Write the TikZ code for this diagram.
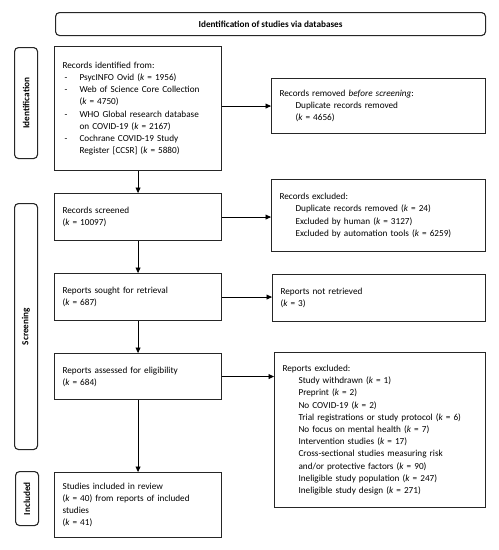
\documentclass[tikz,border=0pt]{standalone}
\usepackage{fontspec}
\setmainfont{Carlito}
\usetikzlibrary{arrows.meta,calc}
\newcommand{\kk}{{\itshape k}}
\newcommand{\ind}{\hspace*{16pt}}
\newcommand{\dashitem}{\hspace*{2pt}\makebox[15pt][l]{-}}
\newcommand{\cont}{\hspace*{17pt}}
\begin{document}
\begin{tikzpicture}[x=1pt,y=-1pt,
  box/.style={draw=black!85, line width=1.1pt, anchor=north west, inner xsep=8pt, inner ysep=0pt,
    align=left, font=\fontsize{9.2}{12.2}\selectfont},
  sidebox/.style={draw=black!85, line width=1.1pt, rounded corners=4pt, anchor=north west,
    minimum width=23pt, inner sep=0pt, font=\fontsize{9.2}{11}\selectfont\bfseries},
  arr/.style={draw=black, line width=0.9pt, -{Triangle[length=5.5pt,width=5pt]}}]
\useasboundingbox (0,0) rectangle (499,550);
% title
\node[draw=black!85, line width=1.1pt, rounded corners=4pt, anchor=north west, minimum width=430pt,
  minimum height=23pt, inner sep=0pt, font=\fontsize{9.2}{12}\selectfont\bfseries] (title) at (55,12)
  {Identification of studies via databases};
% side labels
\node[sidebox, minimum height=111pt] (sideid) at (14,47) {\rotatebox{90}{Identification}};
\node[sidebox, minimum height=246pt] (sidescr) at (14,203) {\rotatebox{90}{Screening}};
\node[sidebox, minimum height=54pt] (sideinc) at (15,471) {\rotatebox{90}{Included}};
% main column
\node[box, minimum width=167pt, minimum height=124pt, text width=151pt] (ident) at (54,46)
  {Records identified from:\\
   \dashitem PsycINFO Ovid (\kk{} = 1956)\\
   \dashitem Web of Science Core Collection\\
   \cont(\kk{} = 4750)\\
   \dashitem WHO Global research database\\
   \cont on COVID-19 (\kk{} = 2167)\\
   \dashitem Cochrane COVID-19 Study\\
   \cont Register [CCSR] (\kk{} = 5880)};
\node[box, minimum width=167pt, minimum height=47pt, text width=151pt] (screened) at (54,193)
  {Records screened\\(\kk{} = 10097)};
\node[box, minimum width=167pt, minimum height=47pt, text width=151pt] (sought) at (54,273)
  {Reports sought for retrieval\\(\kk{} = 687)};
\node[box, minimum width=167pt, minimum height=46pt, text width=151pt] (assessed) at (54,353)
  {Reports assessed for eligibility\\(\kk{} = 684)};
\node[box, minimum width=167pt, minimum height=65pt, text width=151pt] (included) at (54,472)
  {Studies included in review\\(\kk{} = 40) from reports of included\\studies\\(\kk{} = 41)};
% right column
\node[box, minimum width=214pt, minimum height=55pt, text width=198pt] (removed) at (271,78)
  {Records removed {\itshape before screening}:\\
   \ind Duplicate records removed\\
   \ind(\kk{} = 4656)};
\node[box, minimum width=214pt, minimum height=72pt, text width=198pt] (excluded) at (271,179)
  {Records excluded:\\
   \ind Duplicate records removed (\kk{} = 24)\\
   \ind Excluded by human (\kk{} = 3127)\\
   \ind Excluded by automation tools (\kk{} = 6259)};
\node[box, minimum width=213pt, minimum height=47pt, text width=197pt] (notretr) at (272,274)
  {Reports not retrieved\\(\kk{} = 3)};
\node[box, minimum width=211pt, minimum height=155pt, text width=195pt] (repexcl) at (274,352)
  {Reports excluded:\\
   \ind Study withdrawn (\kk{} = 1)\\
   \ind Preprint (\kk{} = 2)\\
   \ind No COVID-19 (\kk{} = 2)\\
   \ind Trial registrations or study protocol (\kk{} = 6)\\
   \ind No focus on mental health (\kk{} = 7)\\
   \ind Intervention studies (\kk{} = 17)\\
   \ind Cross-sectional studies measuring risk\\
   \ind and/or protective factors (\kk{} = 90)\\
   \ind Ineligible study population (\kk{} = 247)\\
   \ind Ineligible study design (\kk{} = 271)};
% arrows
\draw[arr] (ident.south) -- (screened.north);
\draw[arr] (screened.south) -- (sought.north);
\draw[arr] (sought.south) -- (assessed.north);
\draw[arr] (assessed.south) -- (included.north);
\draw[arr] (removed.west -| ident.east) -- (removed.west);
\draw[arr] (screened.east) -- (screened.east -| excluded.west);
\draw[arr] (sought.east) -- (sought.east -| notretr.west);
\draw[arr] (assessed.east) -- (assessed.east -| repexcl.west);
\end{tikzpicture}
\end{document}
